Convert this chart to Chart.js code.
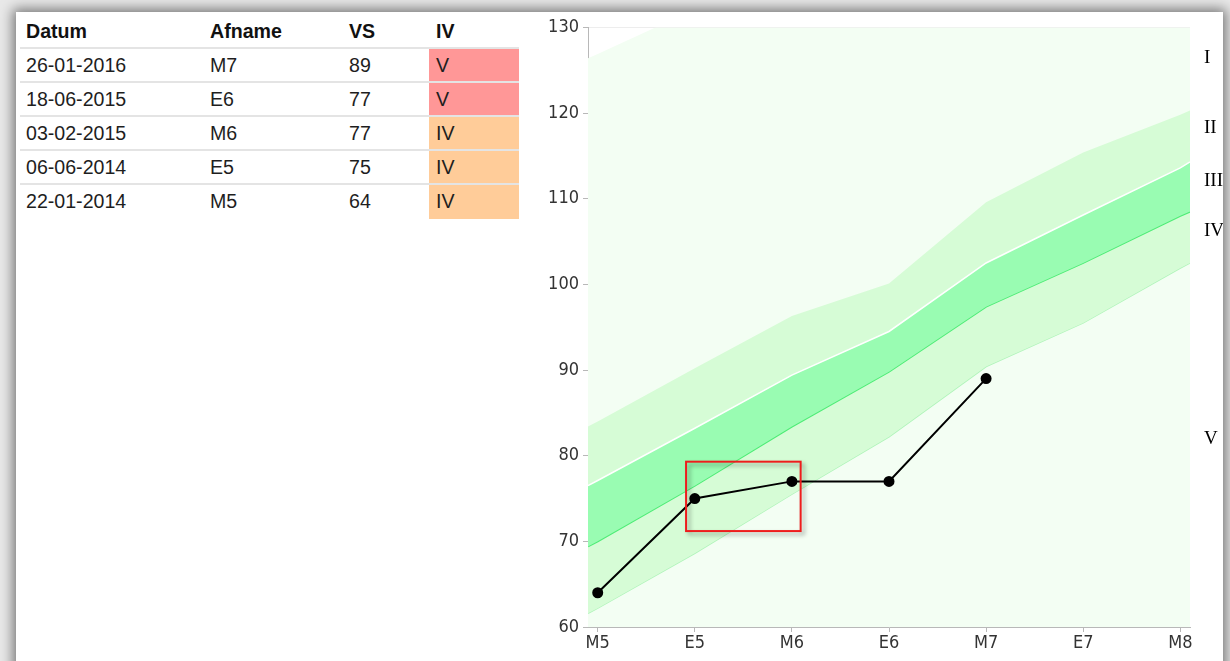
<!DOCTYPE html>
<html>
<head>
<meta charset="utf-8">
<script src="https://cdn.jsdelivr.net/npm/chart.js@4.4.1/dist/chart.umd.min.js"></script>
<style>
  html, body { margin: 0; padding: 0; width: 1230px; height: 661px; overflow: hidden; background: #e9e9e9; }
  #panel { position: absolute; left: 16px; top: 12px; width: 1207px; height: 700px; background: #fff;
           box-shadow: 0 0 12px 3px rgba(0,0,0,0.5); }
  #results { position: absolute; left: 20px; top: 12px; width: 499px; font-family: "Liberation Sans", Arial, sans-serif;
             font-size: 19.6px; color: #1e1e1e; }
  .row { position: relative; height: 34px; border-bottom: 2px solid #e4e4e4; box-sizing: border-box; }
  .row.head { height: 37px; font-weight: bold; color: #111; }
  .row.last { border-bottom: none; }
  .cell { position: absolute; top: 0; bottom: 0; line-height: 33px; padding-left: 6px; box-sizing: border-box; }
  .head .cell { line-height: 38px; }
  .c1 { left: 0; width: 184px; }
  .c2 { left: 184px; width: 139px; }
  .c3 { left: 323px; width: 86px; }
  .c4 { left: 409px; width: 90px; padding-left: 7px; }
  #chartBox { position: absolute; left: 530px; top: 2px; width: 693px; height: 659px; }
</style>
</head>
<body>
<div id="panel"></div>
<div id="results"></div>
<div id="chartBox"><canvas id="myChart"></canvas></div>
<script>
// results table
const dates = ["26-01-2016", "18-06-2015", "03-02-2015", "06-06-2014", "22-01-2014"];
const tests = ["M7", "E6", "M6", "E5", "M5"];
const vsScores = [89, 77, 77, 75, 64];
const levels = ["V", "V", "IV", "IV", "IV"];

// chart data
const categories = ["M5", "E5", "M6", "E6", "M7", "E7", "M8"];
const scores = [64, 75, 77, 77, 89];
const bandX = [-0.1, 0, 1, 2, 3, 4, 5, 6, 6.1];
const bandTop = [126.4, 126.9, 132.1, 138, 142, 151, 157, 161, 162];
const lineA = [83.4, 84.0, 90.2, 96.3, 100.1, 109.6, 115.4, 119.8, 120.3];
const lineB = [76.5, 77.1, 83.2, 89.4, 94.5, 102.5, 108.1, 113.6, 114.3];
const lineC = [69.4, 70.0, 76.5, 83.4, 89.8, 97.4, 102.5, 108.0, 108.5];
const lineD = [61.6, 62.2, 68.6, 75.5, 82.2, 90.4, 95.5, 101.9, 102.5];
const levelNames = ["I", "II", "III", "IV", "V"];
const levelAt = [126.4, 118.2, 112.1, 106.2, 82.0];
const highlight = { xMin: 0.91, xMax: 2.09, yMin: 71.2, yMax: 79.3 };

const levelColors = { "V": "#ff9797", "IV": "#ffcc99" };

let html = '<div class="row head"><div class="cell c1">Datum</div><div class="cell c2">Afname</div>' +
           '<div class="cell c3">VS</div><div class="cell c4">IV</div></div>';
dates.forEach((d, i) => {
  html += '<div class="row' + (i === dates.length - 1 ? ' last' : '') + '">' +
          '<div class="cell c1">' + d + '</div>' +
          '<div class="cell c2">' + tests[i] + '</div>' +
          '<div class="cell c3">' + vsScores[i] + '</div>' +
          '<div class="cell c4" style="background:' + levelColors[levels[i]] + '">' + levels[i] + '</div></div>';
});
document.getElementById("results").innerHTML = html;

const toPoints = (vals) => vals.map((v, i) => ({ x: bandX[i], y: v }));

const highlightBox = {
  id: "highlightBox",
  afterDatasetsDraw(chart) {
    const { ctx, scales: { x, y } } = chart;
    const l = x.getPixelForValue(highlight.xMin), r = x.getPixelForValue(highlight.xMax);
    const t = y.getPixelForValue(highlight.yMax), b = y.getPixelForValue(highlight.yMin);
    ctx.save();
    ctx.shadowColor = "rgba(0,0,0,0.35)";
    ctx.shadowBlur = 4;
    ctx.shadowOffsetX = 3;
    ctx.shadowOffsetY = 3;
    ctx.strokeStyle = "#ee1c1c";
    ctx.lineWidth = 2;
    ctx.strokeRect(l, t, r - l, b - t);
    ctx.restore();
  }
};

const tickFont = { family: "'DejaVu Sans Condensed', 'DejaVu Sans', sans-serif", size: 18 };

let ctx = document.getElementById("myChart").getContext("2d");
let myChart = new Chart(ctx, {
  type: "line",
  data: {
    datasets: [
      {
        data: scores.map((v, i) => ({ x: i, y: v })),
        borderColor: "#000",
        backgroundColor: "#000",
        borderWidth: 2,
        pointRadius: 4.5,
        pointBackgroundColor: "#000",
        fill: false,
      },
      {
        data: toPoints(lineB),
        borderColor: "#ffffff",
        borderWidth: 1.5,
        pointRadius: 0,
        fill: "+1",
        backgroundColor: "rgb(153,252,178)",
      },
      {
        data: toPoints(lineC),
        borderColor: "rgb(78,236,118)",
        borderWidth: 2,
        pointRadius: 0,
        fill: false,
      },
      {
        data: toPoints(lineA),
        borderWidth: 0,
        borderColor: "rgba(0,0,0,0)",
        pointRadius: 0,
        fill: "+1",
        backgroundColor: "rgb(214,252,214)",
      },
      {
        data: toPoints(lineD),
        borderColor: "rgb(176,244,186)",
        borderWidth: 1.5,
        pointRadius: 0,
        fill: false,
      },
      {
        data: toPoints(bandTop),
        borderWidth: 0,
        borderColor: "rgba(0,0,0,0)",
        pointRadius: 0,
        fill: "start",
        backgroundColor: "rgb(243,254,243)",
      },
    ],
  },
  options: {
    responsive: true,
    maintainAspectRatio: false,
    animation: false,
    layout: { padding: 0 },
    plugins: {
      legend: { display: false },
      tooltip: { enabled: false },
    },
    scales: {
      x: {
        type: "linear",
        min: -0.1,
        max: 6.1,
        afterBuildTicks: (scale) => { scale.ticks = categories.map((c, i) => ({ value: i })); },
        afterFit: (scale) => { scale.height = 34; },
        ticks: { callback: (v) => categories[v], font: tickFont, color: "#333", padding: 1, maxRotation: 0 },
        grid: { drawOnChartArea: false, tickLength: 5, color: "#b8b8b8" },
        border: { color: "#b8b8b8" },
      },
      y: {
        min: 60,
        max: 130,
        z: 1,
        afterFit: (scale) => { scale.width = 58; },
        ticks: { stepSize: 10, font: tickFont, color: "#333", padding: 4 },
        grid: { color: "rgba(0,0,0,0.07)", tickColor: "#b8b8b8", tickLength: 5 },
        border: { color: "#b8b8b8" },
      },
      levels: {
        position: "right",
        min: 60,
        max: 130,
        afterBuildTicks: (scale) => { scale.ticks = levelAt.map((v) => ({ value: v })); },
        afterFit: (scale) => { scale.width = 33; },
        ticks: {
          callback: (v, i) => levelNames[i],
          font: { family: "'Liberation Serif', 'DejaVu Serif', serif", size: 19 },
          color: "#000",
          padding: 14,
          autoSkip: false,
        },
        grid: { display: false, drawTicks: false },
        border: { display: false },
      },
    },
  },
  plugins: [highlightBox],
});
</script>
</body>
</html>
